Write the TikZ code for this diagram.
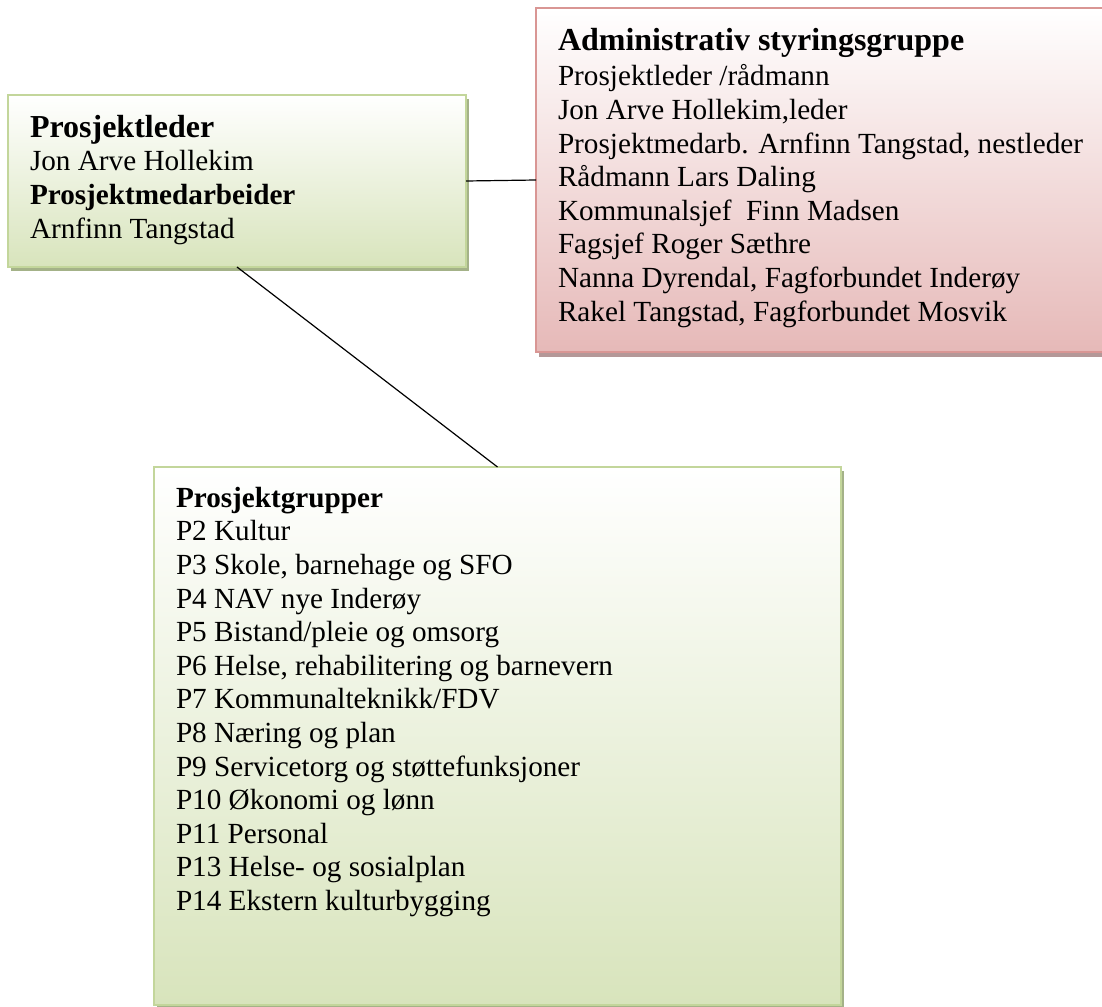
\documentclass[tikz,border=0pt]{standalone}
\usepackage{fontspec}
\setmainfont{Liberation Serif}
\usetikzlibrary{shadows,positioning}
\definecolor{boxgreen}{RGB}{216,228,188}
\definecolor{greenline}{RGB}{195,214,155}
\definecolor{greenshadow}{RGB}{164,178,136}
\definecolor{boxpink}{RGB}{230,185,184}
\definecolor{pinkline}{RGB}{217,150,148}
\definecolor{pinkshadow}{RGB}{180,152,152}
\newcommand{\bighead}[1]{{\fontsize{16}{19}\selectfont\bfseries #1}}
\begin{document}
\begin{tikzpicture}
[x=.5pt,y=-.5pt,
every node/.style={inner sep=0pt,outer sep=0pt},
mybox/.style={shape=rectangle,anchor=north west,line width=1pt,top color=white},
greenbox/.style={mybox,draw=greenline,bottom color=boxgreen,
  drop shadow={shadow xshift=1.5pt,shadow yshift=-2pt,fill=greenshadow,opacity=1}},
pinkbox/.style={mybox,draw=pinkline,bottom color=boxpink,
  drop shadow={shadow xshift=1.5pt,shadow yshift=-2.5pt,fill=pinkshadow,opacity=1}},
lab/.style={align=left,font=\fontsize{14.6}{16.8}\selectfont},
myedge/.style={line width=.6pt}]
\useasboundingbox (0,0) rectangle (1102,1006);
%%%%%%%%%%
%%%%% organisation
%% boxes
\node (lead) [greenbox,minimum width=229pt,minimum height=86pt] at (8,95) {};
\node (admin) [pinkbox,minimum width=288pt,minimum height=172pt] at (536,8) {};
\node (groups) [greenbox,minimum width=343.5pt,minimum height=269pt] at (154,467) {};
%% texts
\node (leadtxt) [lab,below right=10pt and 11pt of lead.north west]
  {\bighead{Prosjektleder}\\Jon Arve Hollekim\\
   \textbf{Prosjektmedarbeider}\\Arnfinn Tangstad};
\node (admintxt) [lab,below right=10pt and 11pt of admin.north west]
  {\bighead{Administrativ styringsgruppe}\\[1pt]
   Prosjektleder /rådmann\\
   Jon Arve Hollekim,leder\\
   Prosjektmedarb. Arnfinn Tangstad, nestleder\\
   Rådmann Lars Daling\\
   Kommunalsjef~ Finn Madsen\\
   Fagsjef Roger Sæthre\\
   Nanna Dyrendal, Fagforbundet Inderøy\\
   Rakel Tangstad, Fagforbundet Mosvik};
\node (groupstxt) [lab,below right=10pt and 11pt of groups.north west]
  {\textbf{Prosjektgrupper}\\
   P2 Kultur\\
   P3 Skole, barnehage og SFO\\
   P4 NAV nye Inderøy\\
   P5 Bistand/pleie og omsorg\\
   P6 Helse, rehabilitering og barnevern\\
   P7 Kommunalteknikk/FDV\\
   P8 Næring og plan\\
   P9 Servicetorg og støttefunksjoner\\
   P10 Økonomi og lønn\\
   P11 Personal\\
   P13 Helse- og sosialplan\\
   P14 Ekstern kulturbygging};
%% edges
\draw[myedge] (lead.east) -- (admin.west);
\draw[myedge] (lead.south) -- (groups.north);
\end{tikzpicture}
\end{document}
